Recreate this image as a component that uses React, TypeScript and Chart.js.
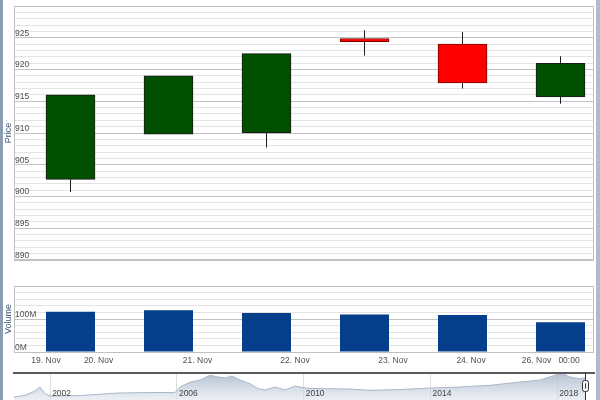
import React, { useEffect, useRef } from 'react';
import { Chart, registerables } from 'chart.js';

Chart.register(...registerables);

// ---------------- data ----------------
const candleIndex = [0, 1, 2, 3, 4, 5];
const opens = [902.7, 909.8, 910.0, 924.9, 924.0, 915.7];
const closes = [916.0, 919.0, 922.5, 924.4, 917.9, 921.0];
const highs = [916.0, 919.0, 922.5, 926.2, 925.9, 922.1];
const lows = [900.7, 909.8, 907.7, 922.2, 917.0, 914.6];
const volumes = [122e6, 127e6, 118e6, 114e6, 112e6, 90e6];

const xTickPositions = [-0.25, 0.286, 1.296, 2.291, 3.291, 4.087, 4.755, 5.087];
const xTickLabels = ['19. Nov', '20. Nov', '21. Nov', '22. Nov', '23. Nov', '24. Nov', '26. Nov', '00:00'];

const priceMin = 890;
const priceMax = 930;
const volumeMax = 200e6;
const indexMin = -0.5765;
const indexMax = 5.3418;

const navYears = [2000.86, 2001.21, 2001.5, 2001.68, 2001.84, 2002.0, 2002.95, 2004.11, 2005.15, 2005.94, 2006.1, 2006.42, 2006.73, 2007.05, 2007.3, 2007.52, 2007.74, 2007.99, 2008.31, 2008.56, 2008.78, 2009.1, 2009.41, 2009.73, 2009.89, 2010.2, 2010.83, 2011.46, 2012.09, 2013.04, 2013.99, 2014.93, 2015.88, 2016.83, 2017.46, 2017.93, 2018.15, 2018.4, 2018.72, 2018.9];
const navValues = [123, 193, 357, 533, 258, 164, 185, 287, 308, 308, 533, 738, 820, 1013, 943, 902, 984, 820, 668, 463, 410, 533, 410, 574, 533, 472, 463, 451, 398, 430, 492, 533, 603, 738, 820, 1013, 1100, 943, 873, 914];
const navTickYears = [2002, 2006, 2010, 2014, 2018];
const navYearMin = 2000.86;
const navYearMax = 2019.16;

// ---------------- styles ----------------
const FONT = '"Liberation Sans", Arial, sans-serif';
const GREEN = '#005000';
const RED = '#ff0000';
const VOL_BLUE = '#053e8b';
const LABEL = '#505050';
const TITLE = '#3f5675';
const MAJOR = '#c2c2c2';
const MINOR = '#e4e4e4';
const BODY_WIDTH = 49;

const plotBorder = {
  id: 'plotBorder',
  beforeDatasetsDraw(chart: any) {
    const { ctx, chartArea: a } = chart;
    ctx.save();
    ctx.strokeStyle = '#c0c0c0';
    ctx.lineWidth = 1;
    const l = Math.round(a.left) + 0.5;
    const t = Math.round(a.top) + 0.5;
    const r = Math.round(a.right) - 0.5;
    const b = Math.round(a.bottom) + 0.5;
    ctx.strokeRect(l, t, r - l, b - t);
    ctx.restore();
  },
};

const navHandle = {
  id: 'navHandle',
  afterDraw(chart: any) {
    const { ctx, chartArea: a } = chart;
    const x = Math.round(chart.scales.x.getPixelForValue(navYears[navYears.length - 1])) - 0.5;
    ctx.save();
    ctx.strokeStyle = '#333';
    ctx.lineWidth = 1;
    ctx.beginPath();
    ctx.moveTo(x, a.top);
    ctx.lineTo(x, a.bottom);
    ctx.stroke();
    const hx = x - 3;
    const hy = a.top + 7.5;
    ctx.fillStyle = '#f4f4f4';
    ctx.beginPath();
    (ctx as any).roundRect(hx, hy, 6, 11, 2);
    ctx.fill();
    ctx.stroke();
    ctx.beginPath();
    ctx.moveTo(x, hy + 3);
    ctx.lineTo(x, hy + 8);
    ctx.stroke();
    ctx.restore();
  },
};

function yAxisBase(title: string) {
  return {
    position: 'left' as const,
    afterFit: (s: any) => {
      s.width = 14;
    },
    border: { display: false },
    title: {
      display: true,
      text: title,
      color: TITLE,
      font: { size: 9, family: FONT },
      padding: { top: 3, bottom: 0 },
    },
  };
}

export default function App() {
  const priceRef = useRef<HTMLCanvasElement>(null);
  const volRef = useRef<HTMLCanvasElement>(null);
  const navRef = useRef<HTMLCanvasElement>(null);

  useEffect(() => {
    Chart.defaults.font.family = FONT;
    const charts: Chart[] = [];

    const wick = (label: string, pick: (i: number) => [number, number]) =>
      ({
        label,
        data: candleIndex.map((i) => ({ x: i, y: pick(i) })) as any,
        backgroundColor: '#1e1e1e',
        barThickness: 1,
        inflateAmount: 0,
        grouped: false,
        order: 2,
      } as any);

    // ---- price (candlesticks) ----
    charts.push(
      new Chart(priceRef.current!, {
        type: 'bar',
        data: {
          datasets: [
            wick('upper wick', (i) => [Math.max(opens[i], closes[i]), highs[i]]),
            wick('lower wick', (i) => [lows[i], Math.min(opens[i], closes[i])]),
            {
              label: 'body',
              data: candleIndex.map((i) => ({ x: i, y: [opens[i], closes[i]] })) as any,
              backgroundColor: candleIndex.map((i) => (closes[i] >= opens[i] ? GREEN : RED)),
              borderColor: candleIndex.map((i) => (closes[i] >= opens[i] ? '#1a1a1a' : '#7a0000')),
              borderWidth: 1,
              borderSkipped: false,
              barThickness: BODY_WIDTH,
              grouped: false,
              order: 1,
            } as any,
          ],
        },
        options: {
          responsive: false,
          animation: false,
          devicePixelRatio: 1,
          layout: { padding: { left: 0, right: 6, top: 4, bottom: 4 } },
          plugins: { legend: { display: false }, tooltip: { enabled: false } },
          scales: {
            x: {
              type: 'linear',
              min: indexMin,
              max: indexMax,
              offset: false,
              display: false,
            },
            y: {
              ...yAxisBase('Price'),
              type: 'linear',
              min: priceMin,
              max: priceMax,
              grid: {
                drawTicks: false,
                color: (c: any) => (c.tick && c.tick.value % 5 === 0 ? MAJOR : MINOR),
              },
              ticks: {
                stepSize: 1,
                autoSkip: false,
                mirror: true,
                padding: 1,
                labelOffset: -4.5,
                color: LABEL,
                font: { size: 8.5, family: FONT },
                callback: (v: any) => (v % 5 === 0 && v < priceMax ? String(v) : ''),
              },
            } as any,
          },
        },
        plugins: [plotBorder],
      })
    );

    // ---- volume ----
    charts.push(
      new Chart(volRef.current!, {
        type: 'bar',
        data: {
          datasets: [
            {
              label: 'Volume',
              data: candleIndex.map((i) => ({ x: i, y: volumes[i] })) as any,
              backgroundColor: VOL_BLUE,
              barThickness: BODY_WIDTH,
              inflateAmount: 0,
              grouped: false,
            } as any,
          ],
        },
        options: {
          responsive: false,
          animation: false,
          devicePixelRatio: 1,
          layout: { padding: { left: 0, right: 6, top: 5, bottom: 0 } },
          plugins: { legend: { display: false }, tooltip: { enabled: false } },
          scales: {
            x: {
              type: 'linear',
              min: indexMin,
              max: indexMax,
              offset: false,
              afterFit: (s: any) => {
                s.height = 16;
              },
              afterBuildTicks: (s: any) => {
                s.ticks = xTickPositions.map((v) => ({ value: v }));
              },
              grid: { display: false, drawTicks: false },
              border: { display: false },
              ticks: {
                autoSkip: false,
                maxRotation: 0,
                padding: 4,
                color: LABEL,
                font: { size: 8.5, family: FONT },
                callback: (_v: any, idx: number) => xTickLabels[idx],
              },
            } as any,
            y: {
              ...yAxisBase('Volume'),
              type: 'linear',
              min: 0,
              max: volumeMax,
              grid: {
                drawTicks: false,
                color: (c: any) => (c.tick && c.tick.value % 100e6 === 0 ? MAJOR : MINOR),
              },
              ticks: {
                stepSize: 20e6,
                autoSkip: false,
                mirror: true,
                padding: 1,
                labelOffset: -4.5,
                color: LABEL,
                font: { size: 8.5, family: FONT },
                callback: (v: any) => (v === 0 ? '0M' : v === 100e6 ? '100M' : ''),
              },
            } as any,
          },
        },
        plugins: [plotBorder],
      })
    );

    // ---- navigator ----
    charts.push(
      new Chart(navRef.current!, {
        type: 'line',
        data: {
          datasets: [
            {
              label: 'nav',
              data: navYears.map((x, i) => ({ x, y: navValues[i] })),
              fill: 'start',
              backgroundColor: (c: any) => {
                const a = c.chart.chartArea;
                if (!a) return 'rgba(180,192,208,0.5)';
                const g = c.chart.ctx.createLinearGradient(0, a.top, 0, a.bottom);
                g.addColorStop(0, 'rgba(160,175,198,0.8)');
                g.addColorStop(1, 'rgba(232,237,243,0.6)');
                return g;
              },
              borderColor: '#aab7c7',
              borderWidth: 1,
              pointRadius: 0,
              tension: 0,
            } as any,
          ],
        },
        options: {
          responsive: false,
          animation: false,
          devicePixelRatio: 1,
          layout: { padding: { left: 14, right: 6, top: 2, bottom: 0 } },
          plugins: { legend: { display: false }, tooltip: { enabled: false } },
          scales: {
            x: {
              type: 'linear',
              min: navYearMin,
              max: navYearMax,
              position: { y: 484 },
              afterBuildTicks: (s: any) => {
                s.ticks = navTickYears.map((v) => ({ value: v }));
              },
              grid: { color: '#dedede', drawTicks: false },
              border: { display: false },
              ticks: {
                z: 1,
                autoSkip: false,
                maxRotation: 0,
                align: 'start',
                labelOffset: 2,
                padding: 0,
                color: '#444',
                font: { size: 8.5, family: FONT },
                callback: (v: any) => String(v),
              },
            } as any,
            xTop: {
              type: 'linear',
              position: 'top',
              afterFit: (s: any) => {
                s.height = 0;
              },
              grid: { display: false, drawTicks: false },
              ticks: { display: false },
              border: { display: true, color: '#5a5a5a', width: 2, z: 1 },
            } as any,
            y: {
              type: 'linear',
              min: -120,
              max: 1107,
              display: false,
            },
          },
        },
        plugins: [navHandle],
      })
    );

    return () => charts.forEach((c) => c.destroy());
  }, []);

  return (
    <div
      style={{
        position: 'fixed',
        left: 0,
        top: 0,
        width: 600,
        height: 400,
        overflow: 'hidden',
        background: '#ffffff',
      }}
    >
      <canvas ref={priceRef} width={600} height={266} style={{ position: 'absolute', left: 0, top: 0 }} />
      <canvas ref={volRef} width={600} height={88} style={{ position: 'absolute', left: 0, top: 280 }} />
      <canvas ref={navRef} width={600} height={32} style={{ position: 'absolute', left: 0, top: 371 }} />
      <div style={{ position: 'absolute', left: 0, top: 0, width: 3, height: 400, background: '#8a9db2' }} />
      <div style={{ position: 'absolute', right: 0, top: 0, width: 4, height: 400, background: '#aebccb' }} />
    </div>
  );
}
